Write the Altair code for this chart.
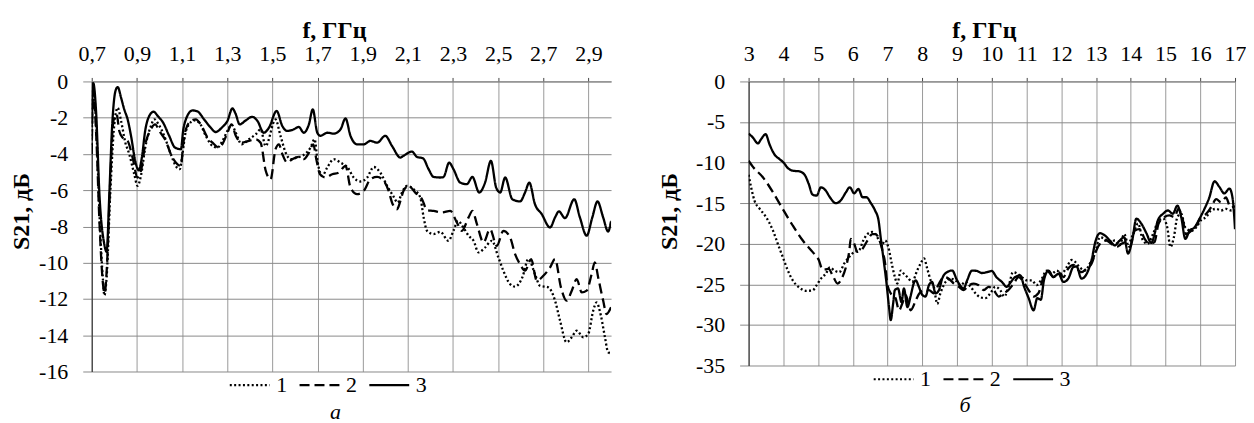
import altair as alt
import pandas as pd

# ---------------- panel "а" (0.7 - 3.0 GHz) ----------------
A_F1 = [0.700,0.706,0.720,0.735,0.750,0.756,0.766,0.782,0.800,0.815,0.830,0.849,0.866,0.888,0.903,0.918,0.937,0.962,0.977,0.996,1.021,1.050,1.072,1.090,1.102,1.114,1.131,1.153,1.176,1.205,1.235,1.257,1.279,1.301,1.320,1.338,1.364,1.396,1.426,1.448,1.470,1.514,1.536,1.559,1.581,1.610,1.639,1.669,1.687,1.701,1.721,1.743,1.772,1.802,1.834,1.860,1.890,1.920,1.949,1.978,2.008,2.035,2.055,2.074,2.096,2.126,2.155,2.170,2.185,2.214,2.244,2.280,2.302,2.322,2.346,2.369,2.391,2.413,2.442,2.472,2.501,2.523,2.553,2.575,2.607,2.634,2.663,2.685,2.722,2.752,2.774,2.803,2.826,2.848,2.877,2.899,2.921,2.936,2.955,2.973,2.987,3.000]
A_S1 = [-3.5,-0.3,-2.5,-7.5,-11.0,-11.8,-10.8,-6.2,-2.37,-1.45,-2.18,-3.38,-4.0,-5.1,-5.76,-5.2,-3.65,-2.46,-2.09,-2.37,-3.0,-4.0,-4.66,-4.84,-4.0,-2.92,-2.37,-2.15,-2.27,-3.0,-3.56,-3.65,-3.28,-2.73,-2.40,-2.83,-3.47,-3.19,-2.92,-2.64,-3.56,-2.1,-3.0,-3.93,-4.29,-4.2,-4.05,-3.65,-3.19,-4.48,-5.21,-4.75,-4.29,-4.48,-4.75,-5.3,-5.52,-5.3,-4.72,-5.03,-5.76,-6.31,-6.68,-6.13,-5.76,-5.95,-6.40,-7.5,-8.24,-8.42,-8.3,-8.79,-8.24,-7.69,-8.06,-8.51,-8.79,-9.43,-9.16,-8.79,-9.71,-10.44,-11.18,-11.32,-10.81,-9.8,-10.63,-11.27,-11.36,-12.09,-13.19,-14.39,-14.11,-13.75,-14.11,-13.93,-12.64,-12.19,-12.92,-14.11,-14.94,-15.0]

A_F2 = [0.700,0.706,0.720,0.735,0.750,0.757,0.766,0.782,0.796,0.810,0.822,0.837,0.859,0.881,0.903,0.918,0.937,0.958,0.981,0.999,1.028,1.050,1.080,1.095,1.105,1.117,1.139,1.161,1.183,1.213,1.235,1.264,1.282,1.301,1.319,1.338,1.364,1.396,1.426,1.448,1.470,1.492,1.514,1.529,1.544,1.566,1.588,1.617,1.639,1.662,1.681,1.696,1.711,1.735,1.765,1.794,1.824,1.846,1.875,1.905,1.934,1.964,1.993,2.015,2.030,2.052,2.067,2.081,2.103,2.133,2.163,2.185,2.214,2.251,2.288,2.317,2.339,2.369,2.386,2.406,2.435,2.464,2.494,2.523,2.553,2.575,2.597,2.619,2.646,2.671,2.700,2.730,2.752,2.778,2.803,2.826,2.848,2.870,2.892,2.914,2.928,2.943,2.965,2.980,3.000]
A_S2 = [-4.0,-0.5,-3.0,-8.0,-11.2,-11.7,-10.5,-5.5,-2.18,-1.8,-2.73,-3.1,-3.28,-4.2,-5.3,-4.93,-3.47,-2.73,-2.37,-2.73,-3.28,-4.0,-4.57,-4.66,-3.47,-2.64,-2.18,-2.09,-2.37,-3.1,-3.38,-3.65,-3.38,-2.83,-2.37,-3.0,-3.38,-3.28,-3.19,-3.38,-4.9,-5.4,-3.74,-3.47,-4.0,-4.48,-4.29,-4.16,-4.29,-3.93,-3.47,-4.38,-5.12,-5.3,-5.12,-5.03,-4.66,-5.85,-6.22,-6.03,-5.4,-5.27,-5.48,-6.03,-6.68,-7.05,-6.59,-6.03,-5.76,-6.13,-6.5,-7.1,-7.14,-7.23,-7.14,-7.78,-8.24,-7.5,-7.14,-7.87,-8.88,-8.15,-9.07,-8.24,-8.61,-9.53,-10.08,-10.44,-9.8,-10.99,-10.72,-10.26,-9.8,-11.36,-12.09,-11.54,-10.9,-11.64,-11.54,-10.63,-9.98,-10.81,-12.09,-12.83,-12.46]

A_F3 = [0.700,0.707,0.719,0.734,0.756,0.766,0.778,0.790,0.805,0.815,0.830,0.844,0.859,0.874,0.893,0.908,0.922,0.937,0.955,0.974,0.992,1.016,1.043,1.069,1.095,1.105,1.117,1.146,1.168,1.198,1.227,1.249,1.279,1.301,1.323,1.338,1.355,1.382,1.411,1.434,1.462,1.485,1.519,1.544,1.566,1.595,1.617,1.639,1.662,1.679,1.699,1.713,1.743,1.772,1.802,1.824,1.846,1.875,1.905,1.934,1.964,2.000,2.030,2.067,2.081,2.118,2.141,2.167,2.192,2.214,2.244,2.258,2.283,2.302,2.332,2.361,2.386,2.416,2.442,2.468,2.491,2.509,2.531,2.563,2.597,2.619,2.638,2.663,2.693,2.730,2.752,2.769,2.796,2.837,2.862,2.892,2.917,2.940,2.965,2.987,3.000]
A_S3 = [-2.5,-0.1,-1.6,-6.2,-9.0,-9.4,-6.2,-2.55,-0.53,-0.31,-0.9,-1.54,-2.09,-3.0,-4.4,-4.9,-4.2,-2.7,-1.9,-1.67,-1.9,-2.27,-3.0,-3.65,-3.74,-2.7,-2.09,-1.6,-1.65,-2.1,-2.55,-2.79,-2.51,-2.18,-1.49,-1.81,-2.37,-2.15,-1.95,-2.18,-2.83,-2.55,-1.63,-2.46,-2.73,-2.64,-2.51,-2.83,-2.36,-1.54,-2.83,-3.0,-2.83,-2.88,-2.64,-2.04,-3.0,-3.47,-3.47,-3.28,-3.38,-3.0,-3.56,-4.2,-4.1,-3.87,-4.17,-4.24,-4.84,-5.27,-5.3,-5.27,-4.48,-4.84,-5.58,-5.67,-5.27,-6.13,-5.58,-4.38,-5.85,-6.13,-5.3,-6.5,-6.62,-6.13,-5.58,-6.77,-7.32,-8.06,-7.5,-7.17,-7.54,-6.5,-7.5,-8.51,-7.5,-6.62,-7.5,-8.28,-7.69]

# ---------------- panel "б" (3 - 17 GHz) ----------------
B_F1 = [3.00,3.08,3.17,3.32,3.50,3.70,3.84,3.98,4.13,4.27,4.46,4.65,4.84,4.96,5.08,5.22,5.34,5.47,5.61,5.75,5.90,6.04,6.18,6.30,6.42,6.56,6.65,6.76,6.85,6.93,7.02,7.12,7.21,7.28,7.38,7.47,7.57,7.71,7.85,7.95,8.05,8.14,8.24,8.33,8.43,8.52,8.67,8.81,8.95,9.10,9.24,9.39,9.53,9.67,9.81,9.96,10.10,10.24,10.36,10.48,10.61,10.74,10.86,11.01,11.15,11.29,11.44,11.58,11.72,11.87,12.01,12.15,12.30,12.39,12.53,12.68,12.82,12.97,13.11,13.25,13.40,13.54,13.68,13.81,13.92,14.07,14.21,14.35,14.48,14.64,14.78,14.93,15.05,15.14,15.24,15.34,15.45,15.57,15.74,15.88,16.02,16.17,16.31,16.46,16.60,16.74,16.89,17.00]
B_S1 = [-11.5,-13.2,-14.7,-15.7,-16.7,-18.35,-20.0,-21.6,-23.3,-24.5,-25.4,-25.8,-25.75,-25.1,-24.3,-23.7,-22.9,-23.3,-23.5,-22.45,-21.6,-21.0,-20.8,-19.6,-18.8,-18.55,-18.8,-19.6,-20.0,-19.6,-20.4,-22.45,-24.1,-24.9,-23.3,-23.7,-24.1,-24.7,-23.3,-22.45,-21.8,-23.05,-24.5,-25.3,-27.4,-26.1,-24.7,-24.3,-24.5,-25.1,-24.7,-25.3,-26.1,-26.6,-26.7,-26.1,-25.3,-25.7,-26.5,-25.3,-23.5,-23.7,-24.1,-24.5,-24.5,-25.1,-24.3,-23.3,-23.7,-23.3,-23.7,-22.9,-22.0,-22.2,-22.9,-23.3,-22.45,-21.2,-19.2,-19.4,-19.8,-19.6,-20.2,-18.8,-20.0,-18.8,-17.5,-19.6,-20.0,-18.8,-17.3,-16.9,-18.0,-20.4,-19.2,-16.7,-16.3,-18.0,-18.4,-18.0,-17.1,-16.7,-15.9,-15.7,-15.9,-15.7,-15.9,-15.9]

B_F2 = [3.00,3.12,3.41,3.70,3.98,4.27,4.56,4.84,5.02,5.13,5.30,5.44,5.56,5.70,5.80,5.90,5.94,6.04,6.13,6.28,6.42,6.56,6.65,6.77,6.85,6.93,6.99,7.09,7.23,7.33,7.42,7.52,7.62,7.66,7.81,7.90,8.05,8.19,8.33,8.48,8.62,8.76,8.91,9.05,9.19,9.34,9.48,9.62,9.77,9.91,10.05,10.20,10.34,10.48,10.63,10.77,10.91,11.06,11.20,11.34,11.49,11.63,11.77,11.92,12.06,12.20,12.35,12.44,12.58,12.73,12.87,13.01,13.16,13.30,13.44,13.59,13.73,13.87,13.97,14.11,14.25,14.40,14.54,14.68,14.80,14.97,15.11,15.26,15.37,15.50,15.59,15.74,15.88,16.02,16.17,16.31,16.46,16.60,16.74,16.87,17.00]
B_S2 = [-9.77,-10.5,-11.8,-13.65,-15.7,-17.75,-19.6,-21.0,-22.0,-23.2,-23.1,-24.1,-24.9,-24.1,-22.9,-20.8,-19.4,-20.0,-21.0,-20.6,-19.6,-18.8,-18.8,-19.6,-20.8,-22.45,-24.9,-26.1,-26.7,-28.2,-27.4,-26.3,-27.7,-28.2,-27.0,-26.2,-25.7,-25.7,-26.1,-24.9,-24.1,-24.3,-24.9,-25.3,-25.7,-25.1,-24.9,-25.1,-25.7,-25.3,-25.7,-26.5,-26.1,-25.7,-24.9,-24.1,-24.7,-25.7,-26.5,-26.1,-24.1,-23.5,-24.1,-23.5,-24.1,-23.05,-22.6,-23.05,-23.5,-23.05,-22.45,-20.8,-19.8,-19.6,-20.0,-20.4,-20.0,-19.8,-20.4,-18.4,-18.2,-19.4,-20.0,-19.8,-17.5,-16.7,-16.5,-16.7,-15.7,-17.1,-18.8,-18.4,-17.8,-16.7,-16.3,-15.5,-14.5,-14.9,-14.3,-15.5,-15.4]

B_F3 = [3.00,3.12,3.27,3.36,3.49,3.60,3.75,3.89,4.00,4.13,4.27,4.46,4.61,4.73,4.84,4.96,5.08,5.22,5.34,5.51,5.65,5.80,5.91,6.04,6.16,6.28,6.39,6.52,6.64,6.74,6.80,6.90,6.97,7.04,7.09,7.16,7.21,7.30,7.40,7.47,7.57,7.66,7.76,7.81,7.90,8.00,8.09,8.19,8.28,8.38,8.48,8.57,8.71,8.86,9.00,9.19,9.29,9.43,9.57,9.72,9.86,10.00,10.13,10.29,10.43,10.55,10.67,10.82,10.93,11.06,11.20,11.31,11.41,11.50,11.63,11.77,11.92,12.06,12.20,12.35,12.44,12.58,12.73,12.87,12.99,13.11,13.25,13.40,13.54,13.68,13.81,13.92,14.04,14.16,14.30,14.45,14.59,14.69,14.78,14.93,15.07,15.21,15.34,15.45,15.57,15.69,15.83,15.98,16.12,16.26,16.41,16.55,16.69,16.84,16.93,17.00]
B_S3 = [-6.42,-6.9,-7.64,-7.11,-6.5,-7.73,-9.03,-9.57,-9.97,-10.67,-11.0,-11.08,-11.49,-12.63,-13.94,-14.06,-13.04,-13.45,-14.27,-15.0,-14.67,-13.66,-13.04,-13.78,-13.25,-14.27,-14.27,-15.0,-15.9,-17.13,-19.18,-22.45,-24.9,-27.76,-29.4,-27.36,-25.7,-25.5,-27.2,-25.5,-27.8,-26.5,-24.8,-24.5,-25.3,-26.3,-26.5,-25.1,-24.7,-26.1,-25.7,-24.3,-23.5,-23.3,-24.5,-25.5,-24.5,-23.3,-23.35,-23.6,-23.5,-23.35,-24.1,-24.7,-25.3,-24.7,-24.1,-23.9,-25.3,-26.7,-28.2,-26.7,-26.9,-24.5,-23.3,-24.1,-23.7,-24.7,-24.3,-22.85,-22.8,-24.3,-23.7,-22.0,-19.6,-18.7,-18.96,-19.6,-20.2,-19.6,-19.2,-21.2,-19.6,-16.9,-17.5,-18.7,-19.9,-18.7,-17.1,-16.3,-15.9,-16.3,-15.3,-16.7,-19.4,-18.4,-18.0,-16.9,-15.7,-14.3,-12.3,-13.0,-13.8,-13.2,-14.4,-18.2]

A_XTICKS = [0.7, 0.9, 1.1, 1.3, 1.5, 1.7, 1.9, 2.1, 2.3, 2.5, 2.7, 2.9]
A_YTICKS = [0, -2, -4, -6, -8, -10, -12, -14, -16]
B_XTICKS = list(range(3, 18))
B_YTICKS = [0, -5, -10, -15, -20, -25, -30, -35]
SERIES = ["1", "2", "3"]
X_TITLE = "f, ГГц"
Y_TITLE = "S21, дБ"

FONT = "Liberation Serif"
LABEL_SIZE = 22
TITLE_SIZE = 24


def frame(pairs):
    parts = []
    for name, fs, vs in pairs:
        parts.append(pd.DataFrame({"f": fs, "v": vs, "series": name, "order": range(len(fs))}))
    return pd.concat(parts, ignore_index=True)


dfA = frame([("1", A_F1, A_S1), ("2", A_F2, A_S2), ("3", A_F3, A_S3)])
dfB = frame([("1", B_F1, B_S1), ("2", B_F2, B_S2), ("3", B_F3, B_S3)])

DASHES = [[2, 2.4], [10, 5], [1, 0]]


def panel(df, xdom, xticks, ydom, yticks, w, h, xfmt, title_x, ytitle_x, ytitle_y,
          leg_x, caption, cap_dx, cap_offset):
    return alt.Chart(df).mark_line(
        interpolate="monotone", color="black", strokeWidth=2.3, clip=True
    ).encode(
        x=alt.X("f:Q", scale=alt.Scale(domain=xdom, nice=False, zero=False),
                axis=alt.Axis(orient="top", values=xticks, title=X_TITLE,
                              labelExpr=xfmt, labelBaseline="alphabetic",
                              labelPadding=17, tickSize=4, tickColor="#444444",
                              domainColor="#8a8a8a", gridColor="#9a9a9a",
                              labelFlush=False, labelOverlap=False,
                              titleX=title_x, titleY=-44, titleAlign="center",
                              titleBaseline="alphabetic", titleAnchor="start")),
        y=alt.Y("v:Q", scale=alt.Scale(domain=ydom, nice=False, zero=False),
                axis=alt.Axis(values=yticks, title=Y_TITLE, labelExpr="datum.value + ''",
                              tickSize=9, tickColor="#8a8a8a", labelPadding=15,
                              domainColor="#3a3a3a", gridColor="#8a8a8a",
                              titleAngle=270, titleX=ytitle_x, titleY=ytitle_y,
                              titleAlign="center", titleBaseline="middle",
                              titleAnchor="start")),
        strokeDash=alt.StrokeDash(
            "series:N",
            scale=alt.Scale(domain=SERIES, range=DASHES),
            legend=alt.Legend(orient="none", legendX=leg_x, legendY=h - 8,
                              direction="horizontal", title=None,
                              symbolType="stroke", symbolSize=1600,
                              symbolStrokeWidth=2.2, symbolStrokeColor="black",
                              labelFont=FONT, labelFontSize=LABEL_SIZE, labelColor="black",
                              labelOffset=5, columnPadding=8, padding=0),
        ),
        order="order:Q",
    ).properties(
        width=w, height=h,
        title=alt.TitleParams(caption, orient="bottom", font=FONT, fontSize=LABEL_SIZE,
                              fontStyle="italic", fontWeight="normal", color="black",
                              anchor="middle", dx=cap_dx, offset=cap_offset),
    )


left = panel(dfA, [0.7, 3.0], A_XTICKS, [-16, 0], A_YTICKS, 521, 291,
             "replace(format(datum.value, '.1f'), '.', ',')", 243, -70, 130,
             137, "а", -16, 6)
right = panel(dfB, [3, 17], B_XTICKS, [-35, 0], B_YTICKS, 488, 285,
              "datum.value + ''", 236, -79, 130, 124, "б", -27, 5)

chart = alt.hconcat(left, right, spacing=138, bounds="flush").resolve_scale(
    strokeDash="independent"
).resolve_legend(strokeDash="independent").properties(
    padding={"left": 2, "top": 10, "right": 0, "bottom": 0}
).configure_axis(
    labelFont=FONT, labelFontSize=LABEL_SIZE, labelColor="black",
    titleFont=FONT, titleFontSize=TITLE_SIZE, titleFontWeight="bold", titleColor="black",
    gridWidth=1, domainWidth=1.2,
).configure_view(stroke=None)

chart.save("out.html", embed_options={"renderer": "svg", "actions": False})
